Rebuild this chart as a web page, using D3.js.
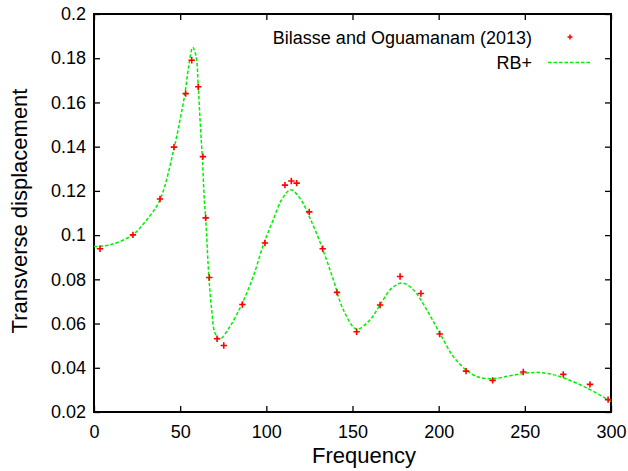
<!DOCTYPE html>
<html>
<head>
<meta charset="utf-8">
<script src="https://cdn.jsdelivr.net/npm/d3@7"></script>
<style>
  html, body { margin: 0; padding: 0; background: #fff; }
  svg { display: block; font-family: "Liberation Sans", Arial, Helvetica, sans-serif; }
</style>
</head>
<body>
<svg id="chart" width="628" height="471"></svg>
<script>
// Reference data: Bilasse and Oguamanam (2013)
const refFreq = [3.5, 22.6, 38.3, 46.4, 53.2, 56.7, 60.5, 63.2, 64.8, 66.9, 71.4, 75.3, 86.1, 99.2, 110.8, 114.5, 117.6, 124.9, 132.7, 141.0, 152.4, 166.0, 177.6, 189.7, 200.6, 215.9, 231.3, 249.1, 272.3, 287.8, 298.3];
const refDisp = [0.0938, 0.1001, 0.1163, 0.1398, 0.1640, 0.1791, 0.1671, 0.1355, 0.1078, 0.0808, 0.0531, 0.0501, 0.0686, 0.0964, 0.1226, 0.1245, 0.1235, 0.1105, 0.0938, 0.0741, 0.0563, 0.0684, 0.0813, 0.0736, 0.0553, 0.0385, 0.0343, 0.0381, 0.0370, 0.0325, 0.0256];

// RB+ curve
const rbFreq = [0, 9.3, 22.4, 30.6, 38.3, 46.6, 49.9, 52.8, 54.9, 57.3, 59.2, 60.5, 61.7, 63.0, 64.0, 64.8, 66.7, 68.3, 70.2, 73.0, 78.9, 85.9, 92.4, 98.6, 104.0, 108.9, 114.1, 119.5, 125.3, 132.1, 138.9, 144.7, 152.4, 160.2, 166.0, 172.8, 179.1, 185.3, 193.1, 200.6, 208.5, 216.3, 223.0, 231.7, 241.4, 251.1, 257.9, 266.5, 274.3, 285.9, 300];
const rbDisp = [0.0948, 0.0956, 0.1001, 0.1069, 0.1160, 0.1398, 0.1520, 0.1642, 0.1762, 0.1849, 0.1810, 0.1672, 0.1500, 0.1330, 0.1160, 0.1077, 0.0806, 0.0663, 0.0557, 0.0530, 0.0587, 0.0690, 0.0813, 0.0964, 0.1069, 0.1160, 0.1205, 0.1167, 0.1077, 0.0949, 0.0798, 0.0662, 0.0575, 0.0617, 0.0685, 0.0760, 0.0783, 0.0753, 0.0662, 0.0557, 0.0451, 0.0388, 0.0358, 0.0351, 0.0364, 0.0376, 0.0379, 0.0369, 0.0349, 0.0309, 0.0248];

const xTicks = [0, 50, 100, 150, 200, 250, 300];
const yTicks = [0.02, 0.04, 0.06, 0.08, 0.1, 0.12, 0.14, 0.16, 0.18, 0.2];
const seriesNames = ["Bilasse and Oguamanam (2013)", "RB+"];
const xTitle = "Frequency";
const yTitle = "Transverse displacement";

const svg = d3.select("#chart");
const L = 94, R = 611, T = 14, B = 412;

const x = d3.scaleLinear().domain([0, 300]).range([L, R]);
const y = d3.scaleLinear().domain([0.02, 0.2]).range([B, T]);

const fmtY = d => String(+d.toFixed(2));
const tickLen = 6;

// axes with inward ticks
const gB = svg.append("g").attr("transform", `translate(0,${B})`)
  .call(d3.axisBottom(x).tickValues(xTicks).tickSize(-tickLen).tickPadding(10).tickFormat(d3.format("d")));
const gT = svg.append("g").attr("transform", `translate(0,${T})`)
  .call(d3.axisTop(x).tickValues(xTicks).tickSize(-tickLen).tickFormat(""));
const gL = svg.append("g").attr("transform", `translate(${L},0)`)
  .call(d3.axisLeft(y).tickValues(yTicks).tickSize(-tickLen).tickPadding(8).tickFormat(fmtY));
const gR = svg.append("g").attr("transform", `translate(${R},0)`)
  .call(d3.axisRight(y).tickValues(yTicks).tickSize(-tickLen).tickFormat(""));

[gB, gT, gL, gR].forEach(g => {
  g.select(".domain").remove();
  g.selectAll(".tick line").attr("stroke", "#000").attr("stroke-width", 1.3);
  g.selectAll(".tick text").attr("fill", "#000").style("font-size", "18px")
    .style("font-family", '"Liberation Sans", Arial, Helvetica, sans-serif');
});
gB.selectAll(".tick text").attr("dy", "0.9em");

// frame
svg.append("rect").attr("x", L).attr("y", T).attr("width", R - L).attr("height", B - T)
  .attr("fill", "none").attr("stroke", "#000").attr("stroke-width", 2);

// RB+ curve
const line = d3.line().x(d => x(d[0])).y(d => y(d[1])).curve(d3.curveCatmullRom.alpha(0.5));
const rbData = rbFreq.map((f, i) => [f, rbDisp[i]]);
svg.append("path").datum(rbData).attr("d", line)
  .attr("fill", "none").attr("stroke", "#00f000").attr("stroke-width", 1.5)
  .attr("stroke-dasharray", "3.5,2");

// reference points as plus markers
const s = 3.2;
const refData = refFreq.map((f, i) => [f, refDisp[i]]);
const pts = svg.append("g");
pts.selectAll("path").data(refData).enter().append("path")
  .attr("d", d => `M${x(d[0]) - s},${y(d[1])}H${x(d[0]) + s}M${x(d[0])},${y(d[1]) - s}V${y(d[1]) + s}`)
  .attr("stroke", "#ff0000").attr("stroke-width", 1.6).attr("fill", "none");

// legend
const lg = svg.append("g").style("font-size", "18px");
lg.append("text").attr("x", 532).attr("y", 43.5).attr("text-anchor", "end").text(seriesNames[0]);
lg.append("path").attr("d", `M${570 - 2.5},37H${570 + 2.5}M570,${37 - 2.5}V${37 + 2.5}`)
  .attr("stroke", "#ff0000").attr("stroke-width", 1.5);
lg.append("text").attr("x", 532).attr("y", 69.3).attr("text-anchor", "end").text(seriesNames[1]);
lg.append("line").attr("x1", 548).attr("x2", 591).attr("y1", 62.5).attr("y2", 62.5)
  .attr("stroke", "#00f000").attr("stroke-width", 1.5).attr("stroke-dasharray", "3.5,2");

// axis titles
svg.append("text").attr("x", 364).attr("y", 462.5).attr("text-anchor", "middle")
  .style("font-size", "22px").text(xTitle);
svg.append("text").attr("transform", "translate(27,211) rotate(-90)").attr("text-anchor", "middle")
  .style("font-size", "22px").text(yTitle);
</script>
</body>
</html>
